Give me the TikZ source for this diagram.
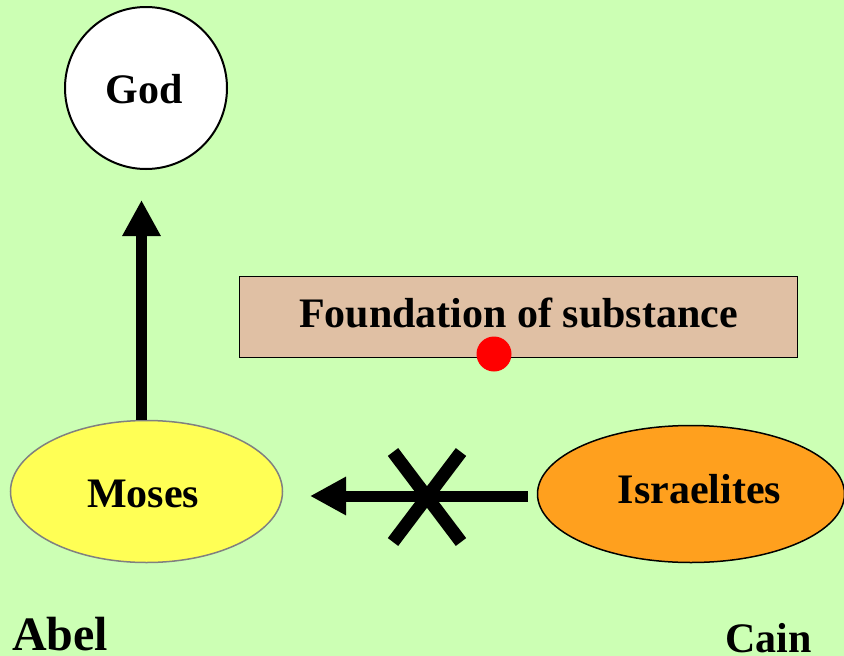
\documentclass[tikz,border=0pt]{standalone}
\usepackage{fontspec}
\setmainfont{Liberation Serif}
\usetikzlibrary{arrows.meta,shapes.geometric}
\definecolor{bg}{RGB}{204,255,180}
\definecolor{tan}{RGB}{224,192,164}
\definecolor{mosesfill}{RGB}{255,255,85}
\definecolor{israelfill}{RGB}{255,160,30}
\definecolor{rim}{RGB}{128,128,128}
\begin{document}
\begin{tikzpicture}[x=1pt,y=-1pt,
  lbl/.style={font=\fontsize{42}{50}\selectfont\bfseries, inner sep=0pt},
  bigarrow/.style={line width=11pt, -{Triangle[length=36pt,width=36pt]}},
  crossline/.style={line width=13pt}]
\fill[bg] (0,0) rectangle (844,656);
\useasboundingbox (0,0) rectangle (844,656);
\node[circle, draw, line width=2pt, fill=white, minimum size=162pt, inner sep=0pt,
  label={[lbl, yshift=-1pt, xshift=-2pt]center:God}] (god) at (146,88) {};
\node[rectangle, draw, line width=1.5pt, fill=tan, minimum width=558pt, minimum height=81pt, inner sep=0pt,
  label={[lbl, yshift=4pt]center:Foundation of substance}] (fnd) at (518.5,317) {};
\node[circle, fill=red, minimum size=35pt, inner sep=0pt] (dot) at (494,354) {};
\node[ellipse, draw=rim, line width=1.5pt, fill=mosesfill, minimum width=272pt, minimum height=142pt, inner sep=0pt,
  label={[lbl, yshift=-2.5pt, xshift=-3.5pt]center:Moses}] (moses) at (146.5,491.5) {};
\node[ellipse, draw, line width=1.5pt, fill=israelfill, minimum width=307pt, minimum height=137pt, inner sep=0pt,
  label={[lbl, yshift=5pt, xshift=8.5pt]center:Israelites}] (israel) at (691,494) {};
\coordinate (up) at (141.5,200);
\coordinate (hl) at (310,496);
\coordinate (xc) at (427,497);
\draw[bigarrow] (moses.north -| up) -- (up);
\draw[bigarrow, shorten <=9pt] (israel.west |- hl) -- (hl);
\draw[crossline] (xc) +(-34,-45) -- +(34,45);
\draw[crossline] (xc) +(34,-45) -- +(-34,45);
\node[font=\fontsize{48}{56}\selectfont\bfseries, inner sep=0pt, anchor=base west] (abel) at (12,650) {Abel};
\node[font=\fontsize{42}{50}\selectfont\bfseries, inner sep=0pt, anchor=base west] (cain) at (725,652) {Cain};
\end{tikzpicture}
\end{document}
